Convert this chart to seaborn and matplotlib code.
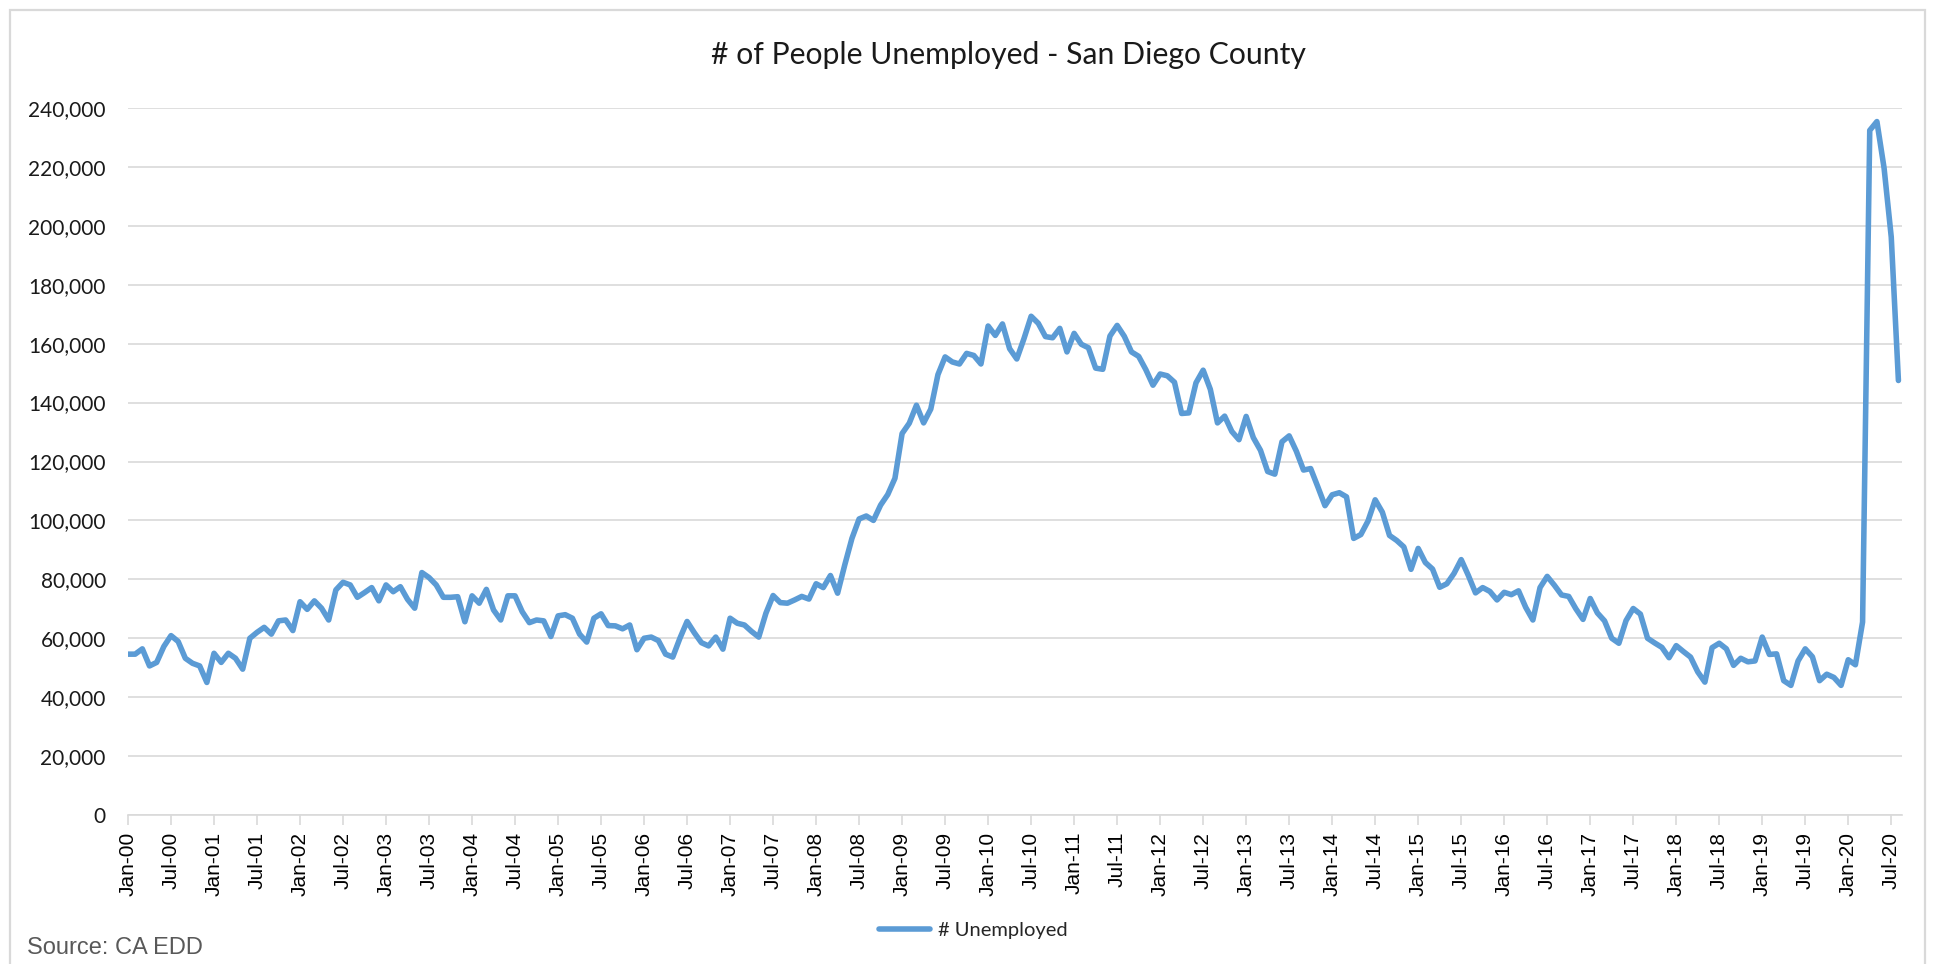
import numpy as np
import pandas as pd
import matplotlib
matplotlib.use("Agg")
import matplotlib.pyplot as plt
import seaborn as sns
from matplotlib.ticker import FuncFormatter, MultipleLocator
from matplotlib.lines import Line2D
from matplotlib.patches import Rectangle

# Monthly count of unemployed people, San Diego County (CA EDD), Jan 2000 - Aug 2020
unemployed_2000 = [54600, 54600, 56400, 50600, 51800, 57200, 60900, 58900, 53200, 51500, 50600, 45000]
unemployed_2001 = [54900, 51800, 54900, 53200, 49500, 60000, 62000, 63700, 61400, 65900, 66200, 62600]
unemployed_2002 = [72400, 69800, 72700, 70200, 66200, 76400, 79000, 78100, 73900, 75500, 77200, 72700]
unemployed_2003 = [78100, 75800, 77500, 73200, 70200, 82300, 80600, 78100, 73900, 73900, 74100, 65600]
unemployed_2004 = [74400, 71900, 76600, 69600, 66200, 74400, 74400, 69000, 65300, 66200, 65900, 60600]
unemployed_2005 = [67600, 68000, 66800, 61400, 58700, 66800, 68300, 64300, 64200, 63200, 64500, 56100]
unemployed_2006 = [60000, 60400, 59200, 54600, 53600, 60000, 65700, 61900, 58500, 57400, 60400, 56300]
unemployed_2007 = [66800, 65100, 64500, 62300, 60400, 68500, 74500, 72100, 71900, 73000, 74200, 73300]
unemployed_2008 = [78500, 77200, 81300, 75300, 84900, 93900, 100500, 101500, 100000, 105200, 108800, 114300]
unemployed_2009 = [129500, 133000, 139100, 133100, 137800, 149500, 155500, 153800, 153100, 156700, 156000, 153100]
unemployed_2010 = [166000, 162800, 166700, 158300, 154800, 161700, 169300, 166900, 162400, 162000, 165200, 157200]
unemployed_2011 = [163500, 159800, 158600, 151700, 151300, 162600, 166200, 162500, 157200, 155700, 151200, 145900]
unemployed_2012 = [149700, 149100, 146900, 136300, 136500, 146700, 151000, 144500, 133100, 135400, 130200, 127400]
unemployed_2013 = [135300, 128100, 123800, 116600, 115700, 126700, 128700, 123500, 117100, 117600, 111400, 105000]
unemployed_2014 = [108700, 109400, 108000, 93900, 95200, 99800, 107000, 102800, 94900, 93200, 91000, 83400]
unemployed_2015 = [90500, 85700, 83500, 77300, 78500, 82000, 86700, 81300, 75400, 77200, 75900, 73000]
unemployed_2016 = [75600, 74800, 76100, 70500, 66200, 77200, 81000, 78000, 74700, 74200, 70000, 66400]
unemployed_2017 = [73500, 68600, 65900, 60000, 58300, 66000, 70100, 68200, 60000, 58400, 56900, 53400]
unemployed_2018 = [57500, 55500, 53600, 48600, 45100, 56800, 58300, 56400, 50800, 53200, 52000, 52300]
unemployed_2019 = [60400, 54500, 54700, 45600, 44000, 52300, 56400, 53700, 45600, 47800, 46700, 44000]
unemployed_2020 = [52700, 51000, 65500, 232400, 235400, 219600, 196200, 147500]

series_label = "# Unemployed"
chart_title = "# of People Unemployed - San Diego County"
source_note = "Source: CA EDD"

unemployed = (unemployed_2000 + unemployed_2001 + unemployed_2002 + unemployed_2003
              + unemployed_2004 + unemployed_2005 + unemployed_2006 + unemployed_2007
              + unemployed_2008 + unemployed_2009 + unemployed_2010 + unemployed_2011
              + unemployed_2012 + unemployed_2013 + unemployed_2014 + unemployed_2015
              + unemployed_2016 + unemployed_2017 + unemployed_2018 + unemployed_2019
              + unemployed_2020)
months = pd.date_range("2000-01-01", periods=len(unemployed), freq="MS")
df = pd.DataFrame({"idx": np.arange(len(unemployed)), "unemployed": unemployed})

LINE_BLUE = "#5B9BD5"
GRID_GREY = "#D9D9D9"

sns.set_theme(style="white")
plt.rcParams["font.family"] = ["Lato", "DejaVu Sans"]

W, H = 1935, 964
fig = plt.figure(figsize=(W / 100, H / 100), dpi=100)
ax = fig.add_axes([128 / W, 1 - 815 / H, (1902 - 128) / W, (815 - 108) / H])

sns.lineplot(data=df, x="idx", y="unemployed", ax=ax, color=LINE_BLUE,
             linewidth=4.0, legend=False)
for ln in ax.lines:
    ln.set_solid_joinstyle("round")
    ln.set_solid_capstyle("round")

ax.set_xlim(0, 247.5)
ax.set_ylim(0, 240000)
ax.yaxis.set_major_locator(MultipleLocator(20000))
ax.yaxis.set_major_formatter(FuncFormatter(lambda v, _: f"{v:,.0f}"))
ax.grid(axis="y", color=GRID_GREY, linewidth=1.2)
ax.grid(axis="x", visible=False)
ax.set_axisbelow(True)
for side in ("left", "right", "top"):
    ax.spines[side].set_visible(False)
ax.spines["bottom"].set_color(GRID_GREY)
ax.spines["bottom"].set_linewidth(1.2)

tick_pos = list(range(0, len(unemployed), 6))
ax.set_xticks(tick_pos)
ax.set_xticklabels([months[i].strftime("%b-%y") for i in tick_pos], rotation=90,
                   fontsize=15, family=["Liberation Sans", "DejaVu Sans"], color="#000000")
ax.tick_params(axis="x", which="major", bottom=True, length=7, width=1.2,
               color=GRID_GREY, direction="out", pad=5)
ax.tick_params(axis="y", length=0, pad=16, labelsize=15, labelcolor="#1a1a1a")
ax.set_xlabel("")
ax.set_ylabel("")

fig.text(1008 / W, 1 - 55 / H, chart_title, ha="center", va="center", fontsize=21.7,
         color="#1a1a1a")

handle = Line2D([], [], color=LINE_BLUE, linewidth=4.0)
fig.legend([handle], [series_label], loc="center", bbox_to_anchor=(0.503, 1 - 930 / H),
           frameon=False, fontsize=14.5, handlelength=2.5, handletextpad=0.4)

fig.text(27 / W, 1 - 948 / H, source_note, ha="left", va="center", fontsize=17,
         color="#595959", family=["Liberation Sans", "DejaVu Sans"])

fig.patches.append(Rectangle((10 / W, -0.05), (W - 20) / W, 1.05 - 10 / H,
                             transform=fig.transFigure, fill=False,
                             edgecolor=GRID_GREY, linewidth=1.6))

fig.savefig("out.png", dpi=100)
